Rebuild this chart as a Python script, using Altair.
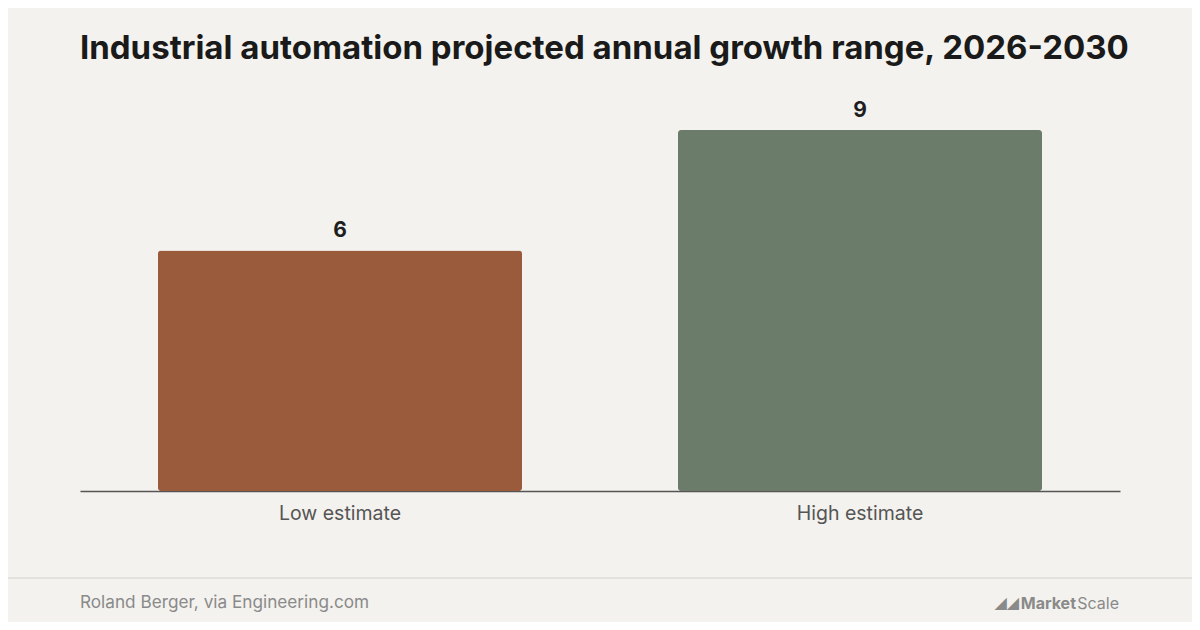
import pandas as pd
import altair as alt

# Chart data
categories = ["Low estimate", "High estimate"]
growth_values = [6, 9]
bar_colors = ["#9A5A3C", "#6B7D6A"]

title_text = "Industrial automation projected annual growth range, 2026-2030"
source_text = "Roland Berger, via Engineering.com"

FONT = "Inter"
BG = "#F3F2EE"

df = pd.DataFrame({"category": categories, "value": growth_values, "color": bar_colors})

x_enc = alt.X(
    "category:N",
    sort=categories,
    title=None,
    scale=alt.Scale(paddingInner=0.30, paddingOuter=0.15),
    axis=alt.Axis(
        labelAngle=0,
        labelFontSize=19.5,
        labelColor="#555555",
        labelFont=FONT,
        labelPadding=13,
        ticks=False,
        domainColor="#555555",
        domainWidth=1.5,
    ),
)
y_enc = alt.Y("value:Q", scale=alt.Scale(domain=[0, 10]), axis=None)

base = alt.Chart(df)

bars = base.mark_bar(cornerRadius=3).encode(
    x=x_enc,
    y=y_enc,
    color=alt.Color("color:N", scale=None),
)

labels = base.mark_text(
    dy=-19, fontSize=21, fontWeight="bold", font=FONT, color="#1E1E1E"
).encode(x=x_enc, y=y_enc, text=alt.Text("value:Q"))

# Title, footer line, source and logo placed in pixel space around the plot
title = alt.Chart(pd.DataFrame({"t": [title_text]})).mark_text(
    align="left", baseline="middle", fontSize=33, fontWeight="bold", font=FONT,
    color="#1A1A1A"
).encode(x=alt.value(0), y=alt.value(-41), text="t:N")

footer_rule = alt.Chart(pd.DataFrame({"a": [0]})).mark_rule(
    color="#E2E1DC", strokeWidth=2
).encode(x=alt.value(-80), x2=alt.value(1120), y=alt.value(488))

source = alt.Chart(pd.DataFrame({"t": [source_text]})).mark_text(
    align="left", baseline="middle", fontSize=17.2, font=FONT, color="#8A8A8A"
).encode(x=alt.value(0), y=alt.value(513), text="t:N")

logo_scale = alt.Chart(pd.DataFrame({"t": ["Scale"]})).mark_text(
    align="right", baseline="middle", fontSize=16, font=FONT, color="#8A8A8A"
).encode(x=alt.value(1039), y=alt.value(514), text="t:N")

logo_market = alt.Chart(pd.DataFrame({"t": ["Market"]})).mark_text(
    align="right", baseline="middle", fontSize=16, fontWeight="bold", font=FONT,
    color="#8A8A8A"
).encode(x=alt.value(996), y=alt.value(514), text="t:N")

logo_icon = alt.Chart(pd.DataFrame({"t": ["◢◢"]})).mark_text(
    align="right", baseline="middle", fontSize=16, font="DejaVu Sans",
    color="#8A8A8A"
).encode(x=alt.value(939), y=alt.value(513), text="t:N")

chart = alt.layer(
    bars, labels, title, footer_rule, source, logo_scale, logo_market, logo_icon
).properties(
    width=1040,
    height=401,
    padding={"left": 72, "right": 72, "top": 82, "bottom": 131},
    autosize=alt.AutoSizeParams(type="none"),
).configure(
    background=BG
).configure_view(
    stroke=None
)

chart.save("out.html", embed_options={"renderer": "svg", "actions": False})
